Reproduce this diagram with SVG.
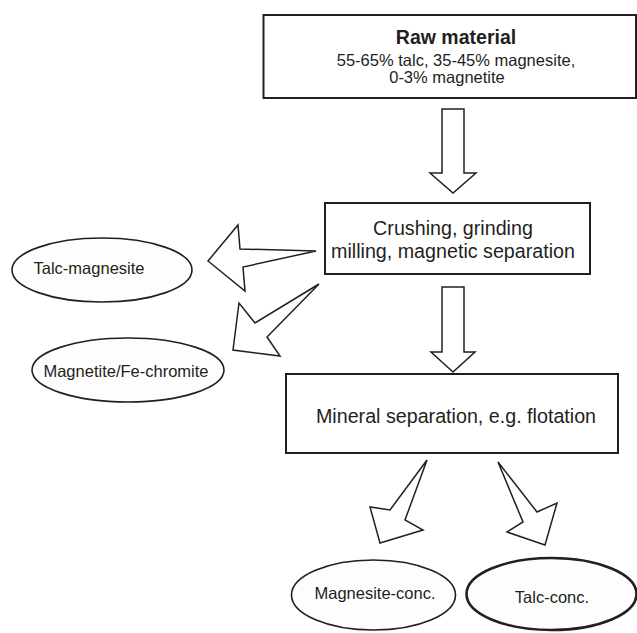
<svg xmlns="http://www.w3.org/2000/svg" width="637" height="633" viewBox="0 0 637 633">
<style>
.box{fill:#fff;stroke:#231f20;stroke-width:2}
.ell{fill:#fdfdfd;stroke:#231f20;stroke-width:1.6}
.arr{fill:#fff;stroke:#231f20;stroke-width:1.5;stroke-linejoin:miter}
text{font-family:"Liberation Sans",Arial,sans-serif;fill:#231f20;text-anchor:middle}
.big{font-size:19.7px}
.sm{font-size:16.5px}
</style>
<rect width="637" height="633" fill="#fff"/>
<g id="raw">
<rect class="box" x="263.5" y="15" width="372.5" height="83"/>
<text x="456" y="44" style="font-size:19.5px;font-weight:bold">Raw material</text>
<text x="456" y="66" style="font-size:16.5px">55-65% talc, 35-45% magnesite,</text>
<text x="447" y="83" style="font-size:16.5px">0-3% magnetite</text>
</g>
<g id="crushing">
<rect class="box" x="325" y="203" width="265" height="71"/>
<text class="big" x="453" y="235">Crushing, grinding</text>
<text class="big" x="453" y="258">milling, magnetic separation</text>
</g>
<g id="mineral">
<rect class="box" x="286" y="374" width="332" height="79"/>
<text class="big" x="456" y="423">Mineral separation, e.g. flotation</text>
</g>
<g id="talc-magnesite">
<ellipse class="ell" cx="102" cy="270" rx="90" ry="32"/>
<text class="sm" x="89" y="274">Talc-magnesite</text>
</g>
<g id="magnetite">
<ellipse class="ell" cx="128" cy="370" rx="96" ry="32"/>
<text class="sm" x="126" y="377">Magnetite/Fe-chromite</text>
</g>
<g id="magnesite-conc">
<ellipse class="ell" cx="373.5" cy="595" rx="82" ry="35"/>
<text class="sm" x="375" y="599">Magnesite-conc.</text>
</g>
<g id="talc-conc">
<ellipse class="ell" cx="551.5" cy="594" rx="85" ry="36" style="stroke-width:2.6"/>
<text class="sm" x="552" y="603">Talc-conc.</text>
</g>
<g id="connectors">
<polygon class="arr" points="442,109 464,109 464,173 476,173 453,193 430,173 442,173"/>
<polygon class="arr" points="442,287 464,287 464,352 475,352 453,372 431,352 442,352"/>
<polygon class="arr" points="316,251 240,249 238,225 208,261 245,291 243,267"/>
<polygon class="arr" points="319,284 255,323 239,303 233,350 280,356 267,337"/>
<polygon class="arr" points="427,460 390,510 370,507 380,543 423,530 405,520"/>
<polygon class="arr" points="498,462 523,522 507,532 545,545 557,503 537,512"/>
</g>
</svg>
